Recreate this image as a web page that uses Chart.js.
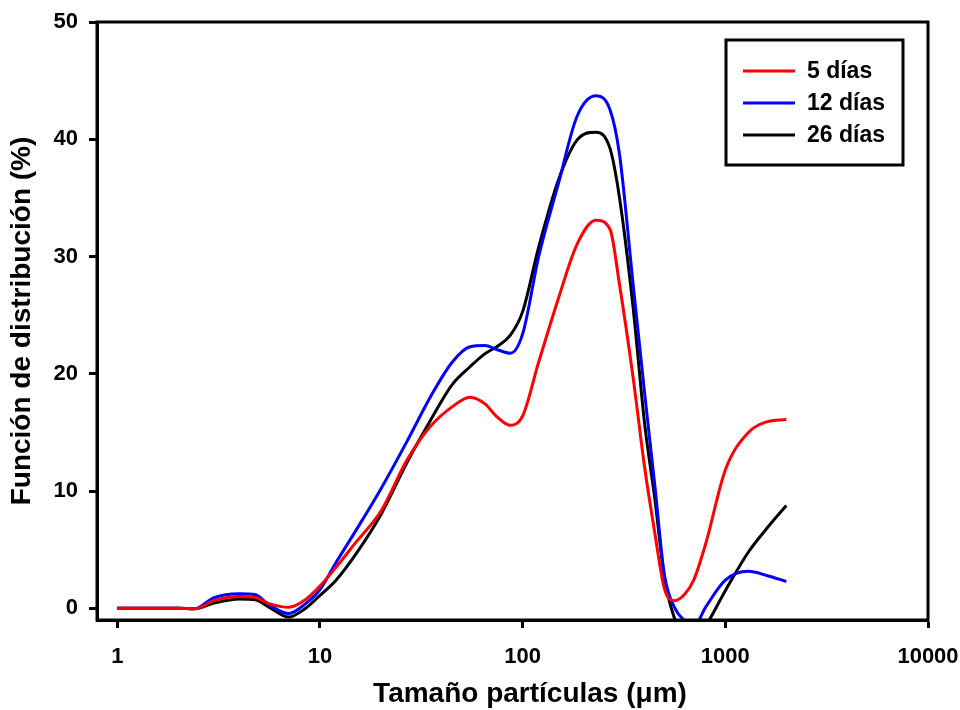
<!DOCTYPE html>
<html>
<head>
<meta charset="utf-8">
<script src="https://cdn.jsdelivr.net/npm/chart.js@4.4.0/dist/chart.umd.min.js"></script>
<style>
  body { margin: 0; background: #fff; }
</style>
</head>
<body>
<canvas id="distChart" width="960" height="710"></canvas>
<script>
// tamaño de partícula (µm) y función de distribución (%)
const sizes = [1, 2, 2.4, 3, 4, 4.8, 5.6, 7, 8.5, 10, 12, 15, 20, 27, 35, 45, 55, 65, 75, 87, 100, 120, 150, 185, 230, 270, 300, 350, 400, 450, 500, 560, 630, 700, 800, 1000, 1300, 1600, 2000];
const dias5 = [0, 0, -0.05, 0.65, 1.0, 0.92, 0.4, 0.08, 0.75, 1.9, 3.5, 5.6, 8.3, 12.7, 15.5, 17.2, 18.0, 17.45, 16.3, 15.6, 16.4, 21.0, 26.4, 31.0, 33.1, 32.3, 27.7, 19.8, 12.0, 6.3, 1.7, 0.65, 1.2, 2.45, 5.5, 11.8, 15.0, 15.9, 16.1];
const dias12 = [0, 0, -0.05, 0.9, 1.23, 1.15, 0.3, -0.45, 0.4, 1.6, 3.9, 6.6, 10.2, 14.3, 18.0, 21.0, 22.3, 22.4, 22.05, 21.75, 23.4, 30.0, 36.2, 41.9, 43.7, 42.5, 38.8, 27.8, 18.3, 10.3, 2.9, 0.1, -1.05, -1.5, 0.1, 2.4, 3.15, 2.8, 2.28];
const dias26 = [0, 0, -0.05, 0.45, 0.8, 0.72, 0.1, -0.75, 0.0, 1.1, 2.4, 4.6, 8.0, 12.5, 16.0, 19.1, 20.6, 21.7, 22.35, 23.3, 25.3, 30.8, 36.5, 39.9, 40.6, 39.2, 35.1, 25.8, 15.7, 9.2, 2.65, -0.8, -2.4, -2.8, -1.5, 1.5, 4.8, 6.8, 8.77];

const seriesLabels = ['5 días', '12 días', '26 días'];
const seriesColors = ['#ff0000', '#0000ff', '#000000'];
const xTicks = [1, 10, 100, 1000, 10000];
const yTicks = [0, 10, 20, 30, 40, 50];

const FONT = '"Liberation Sans", Arial, sans-serif';

function toPoints(values) {
    return sizes.map((s, i) => ({ x: s, y: values[i] }));
}

// marco completo + leyenda con recuadro + título del eje x
const framePlugin = {
    id: 'frame',
    afterDraw(chart) {
        const { ctx, chartArea: a } = chart;
        ctx.save();
        ctx.strokeStyle = '#000';
        ctx.lineWidth = 3;
        ctx.strokeRect(a.left, a.top, a.right - a.left, a.bottom - a.top);

        // leyenda
        ctx.strokeRect(726, 40, 177, 125);
        ctx.font = 'bold 23px ' + FONT;
        ctx.textBaseline = 'middle';
        ctx.fillStyle = '#000';
        chart.data.datasets.forEach((ds, i) => {
            const y = 71 + i * 32;
            ctx.strokeStyle = ds.borderColor;
            ctx.lineWidth = 3;
            ctx.beginPath();
            ctx.moveTo(743, y);
            ctx.lineTo(795, y);
            ctx.stroke();
            ctx.fillText(ds.label, 807, y + 1);
        });

        // título eje x
        ctx.font = 'bold 28px ' + FONT;
        ctx.textAlign = 'center';
        ctx.textBaseline = 'alphabetic';
        ctx.fillText('Tamaño partículas (μm)', 530, 702);
        ctx.restore();
    }
};

const ctx = document.getElementById('distChart').getContext('2d');
const distChart = new Chart(ctx, {
    type: 'line',
    data: {
        datasets: [dias5, dias12, dias26].map((vals, i) => ({
            label: seriesLabels[i],
            data: toPoints(vals),
            borderColor: seriesColors[i],
            backgroundColor: seriesColors[i],
            borderWidth: 3,
            pointRadius: 0,
            fill: false,
            cubicInterpolationMode: 'monotone',
            clip: 0
        }))
    },
    options: {
        responsive: false,
        animation: false,
        devicePixelRatio: 1,
        layout: { padding: { top: 22, right: 32, left: 0, bottom: 0 } },
        plugins: {
            legend: { display: false },
            tooltip: { enabled: false }
        },
        scales: {
            x: {
                type: 'logarithmic',
                min: 0.794,
                max: 10000,
                afterBuildTicks: axis => { axis.ticks = xTicks.map(v => ({ value: v })); },
                afterFit: axis => {
                    axis.height = 90;
                    axis.paddingLeft = 0;
                    axis.paddingRight = 0;
                },
                ticks: {
                    callback: v => String(v),
                    font: { family: FONT, size: 22, weight: 'bold' },
                    color: '#000',
                    padding: 16,
                    maxRotation: 0,
                    autoSkip: false
                },
                grid: { drawOnChartArea: false, tickLength: 8, tickWidth: 3, tickColor: '#000' },
                border: { display: true, width: 3, color: '#000' }
            },
            y: {
                type: 'linear',
                min: -1,
                max: 50,
                afterBuildTicks: axis => { axis.ticks = yTicks.map(v => ({ value: v })); },
                afterFit: axis => {
                    axis.width = 97;
                    axis.paddingTop = 0;
                    axis.paddingBottom = 0;
                },
                title: {
                    display: true,
                    text: 'Función de distribución (%)',
                    font: { family: FONT, size: 28, weight: 'bold' },
                    color: '#000',
                    padding: { top: 5, bottom: 0 }
                },
                ticks: {
                    font: { family: FONT, size: 22, weight: 'bold' },
                    color: '#000',
                    padding: 11
                },
                grid: { drawOnChartArea: false, tickLength: 8, tickWidth: 3, tickColor: '#000' },
                border: { display: true, width: 3, color: '#000' }
            }
        }
    },
    plugins: [framePlugin]
});
</script>
</body>
</html>
